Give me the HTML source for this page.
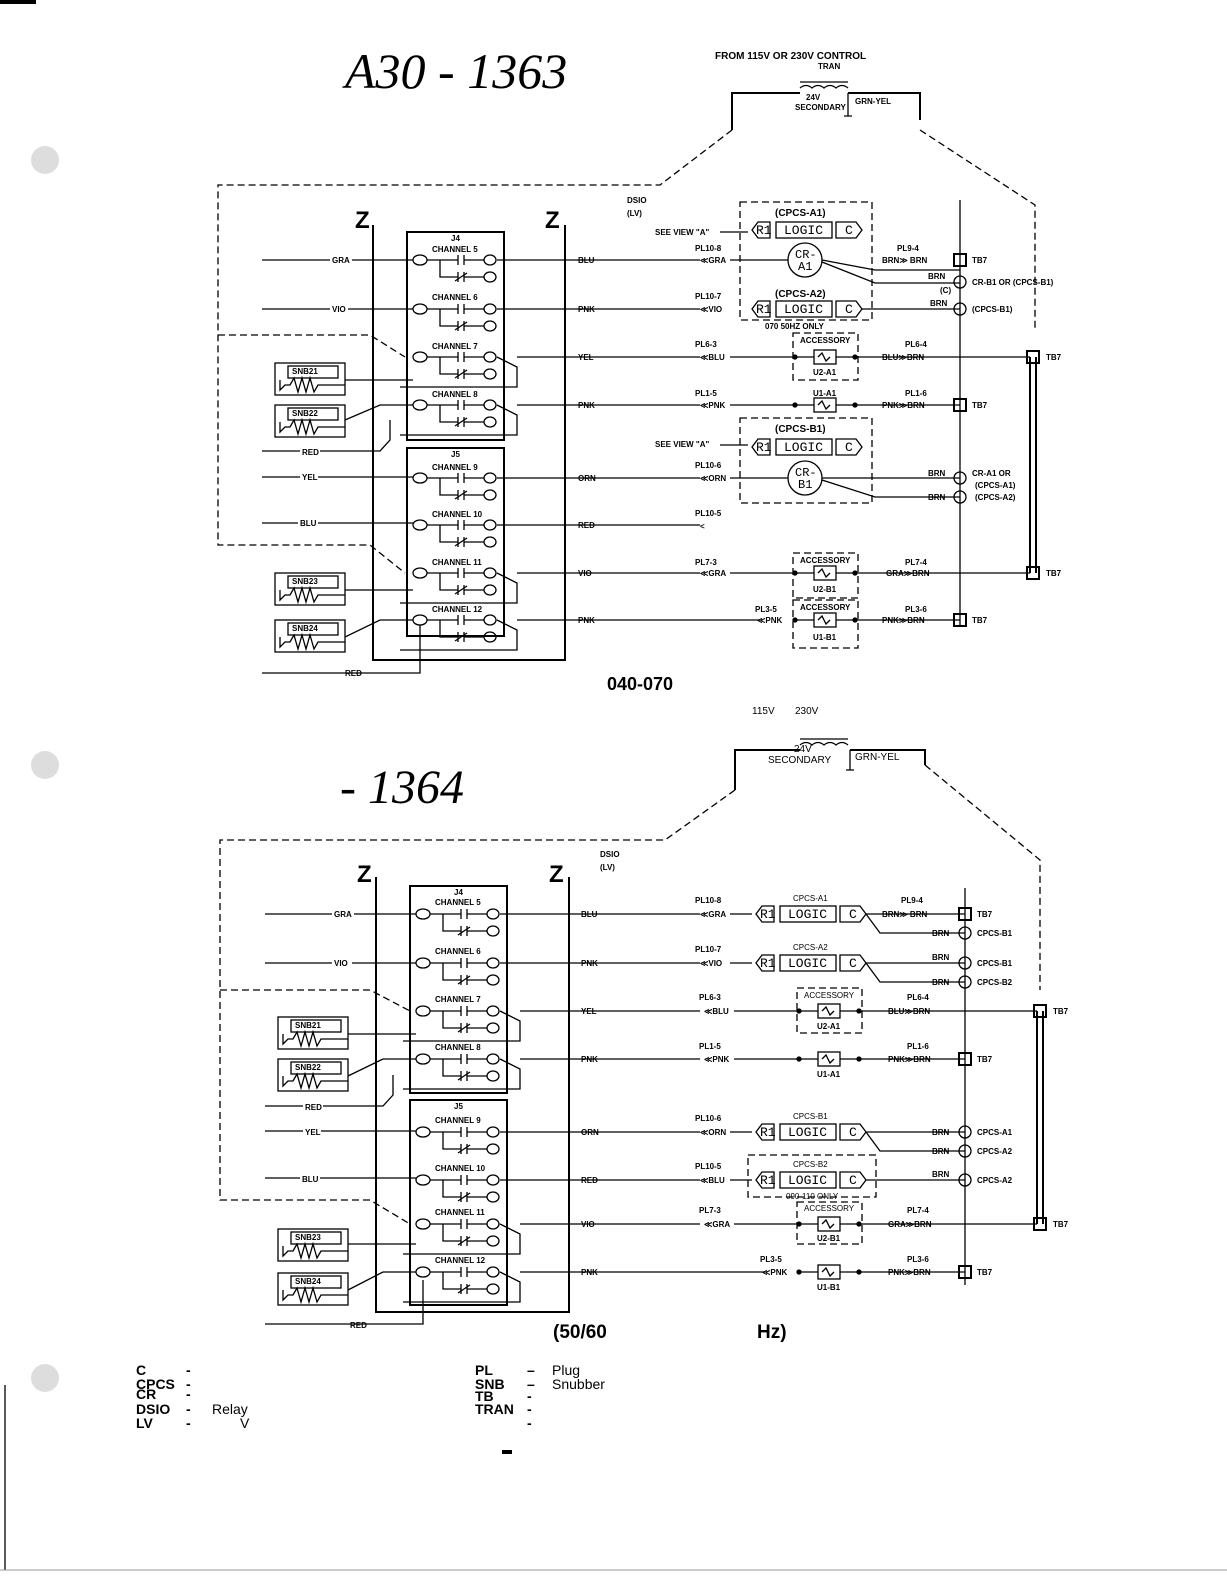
<!DOCTYPE html>
<html><head><meta charset="utf-8"><style>
html,body{margin:0;padding:0;background:#fff}
svg{display:block}
text{font-family:"Liberation Sans",sans-serif;font-size:8px;font-weight:bold;fill:#000}
.t{font-size:10px}
.m{font-family:"Liberation Mono",monospace;font-weight:normal;font-size:13px}
.s{fill:none;stroke:#000;stroke-width:1.3}
.b{fill:none;stroke:#000;stroke-width:2}
.d{fill:none;stroke:#000;stroke-width:1.3;stroke-dasharray:7 4}
</style></head><body>
<svg width="1227" height="1587" viewBox="0 0 1227 1587" xmlns="http://www.w3.org/2000/svg">
<defs>
<g id="ch" class="s">
<ellipse cx="420" cy="0" rx="7" ry="5"/><ellipse cx="490" cy="0" rx="6" ry="5"/><ellipse cx="490" cy="17" rx="6" ry="5"/>
<line x1="427" y1="0" x2="458" y2="0"/><line x1="458" y1="-5" x2="458" y2="5"/><line x1="464" y1="-5" x2="464" y2="5"/><line x1="464" y1="0" x2="484" y2="0"/>
<polyline points="440,0 440,17 458,17"/><line x1="458" y1="12" x2="458" y2="22"/><line x1="464" y1="12" x2="464" y2="22"/><line x1="455" y1="21" x2="467" y2="13"/><line x1="464" y1="17" x2="484" y2="17"/>
</g>
<g id="br" class="s"><polyline points="497,0 517,10 517,30 400,30"/></g>
<g id="snb" class="s"><rect x="0" y="0" width="70" height="32"/><rect x="13" y="3" width="50" height="12"/><polyline points="5,17 5,27 10,22 15,22 19,15 23,29 27,15 31,29 35,15 39,29 43,22 70,22"/></g>
<g id="rlc" class="s"><path d="M10,-8 H22 V8 H10 L4,0 Z"/><rect x="28" y="-8" width="56" height="16"/><path d="M88,-8 H108 L114,0 108,8 H88 Z"/></g>
<g id="acc" class="s"><rect x="-11" y="-7" width="22" height="14"/><path d="M-7,0 l4,-4 4,8 4,-4"/><line x1="-30" y1="0" x2="-11" y2="0"/><line x1="11" y1="0" x2="30" y2="0"/><circle cx="-30" cy="0" r="2" fill="#000"/><circle cx="30" cy="0" r="2" fill="#000"/></g>
<g id="tb" class="s"><rect x="-6" y="-6" width="12" height="12" stroke-width="2"/></g>
<g id="cr"><circle cx="0" cy="0" r="6" class="s"/></g>
</defs>

<rect x="0" y="0" width="36" height="4" fill="#000"/>
<circle cx="45" cy="160" r="14" fill="#ddd"/><circle cx="45" cy="765" r="14" fill="#ddd"/><circle cx="45" cy="1378" r="14" fill="#ddd"/>
<line x1="5" y1="1385" x2="5" y2="1570" class="s"/>
<line x1="0" y1="1570" x2="1227" y2="1570" stroke="#999" stroke-width="1"/>

<!-- TOP -->
<text x="345" y="88" style="font-size:50px;font-weight:normal;font-style:italic;font-family:'Liberation Serif',serif">A30 - 1363</text>
<text x="715" y="59" class="t">FROM 115V OR 230V CONTROL</text><text x="818" y="69">TRAN</text>
<path class="b" d="M732,130 V93 H800 M848,93 H920 V120"/>
<path class="s" d="M800,88 q6,-5 12,0 q6,-5 12,0 q6,-5 12,0 q6,-5 12,0 M800,82 H848"/>
<text x="806" y="100">24V</text><text x="795" y="110">SECONDARY</text><text x="855" y="104">GRN-YEL</text>
<path class="s" d="M848,93 V116 M844,116 H852"/>
<path class="d" d="M732,130 L660,185 H218 V545 H370 L405,573 M920,130 L1035,205 V330 M218,335 H370 L405,357"/>
<text x="627" y="203">DSIO</text><text x="627" y="216">(LV)</text>
<text x="355" y="228" style="font-size:24px">Z</text><text x="545" y="228" style="font-size:24px">Z</text>
<path class="b" d="M373,225 V660 H565 V225"/>
<rect class="b" x="407" y="232" width="97" height="208"/><rect class="b" x="407" y="448" width="97" height="188"/>
<text x="451" y="241">J4</text><text x="451" y="457">J5</text>
<g><use href="#ch" y="260"/><use href="#ch" y="309"/><use href="#ch" y="357"/><use href="#ch" y="405"/><use href="#ch" y="478"/><use href="#ch" y="525"/><use href="#ch" y="573"/><use href="#ch" y="620"/>
<use href="#br" y="357"/><use href="#br" y="405"/><use href="#br" y="573"/><use href="#br" y="620"/></g>
<text x="432" y="252">CHANNEL 5</text><text x="432" y="300">CHANNEL 6</text><text x="432" y="349">CHANNEL 7</text><text x="432" y="397">CHANNEL 8</text><text x="432" y="470">CHANNEL 9</text><text x="432" y="517">CHANNEL 10</text><text x="432" y="565">CHANNEL 11</text><text x="432" y="612">CHANNEL 12</text>
<path class="s" d="M262,260 H413 M262,309 H413 M345,380 H413 M345,420 L380,405 H413 M262,451 H380 L390,440 V420 M262,477 H413 M262,523 H413 M345,590 H413 M345,637 L380,620 H413 M262,673 H420 V625"/>
<rect x="330" y="255" width="22" height="9" fill="#fff"/><text x="332" y="263">GRA</text>
<rect x="330" y="304" width="18" height="9" fill="#fff"/><text x="332" y="312">VIO</text>
<rect x="300" y="447" width="20" height="9" fill="#fff"/><text x="302" y="455">RED</text>
<rect x="300" y="472" width="18" height="9" fill="#fff"/><text x="302" y="480">YEL</text>
<rect x="298" y="518" width="20" height="9" fill="#fff"/><text x="300" y="526">BLU</text>
<text x="345" y="676">RED</text>
<use href="#snb" x="275" y="363"/><use href="#snb" x="275" y="405"/><use href="#snb" x="275" y="573"/><use href="#snb" x="275" y="620"/>
<text x="292" y="374">SNB21</text><text x="292" y="416">SNB22</text><text x="292" y="584">SNB23</text><text x="292" y="631">SNB24</text>
<path class="s" d="M497,260 H700 M497,309 H700 M517,357 H700 M517,405 H700 M497,478 H700 M497,525 H700 M517,573 H700 M517,620 H760"/>
<g><text x="578" y="263">BLU</text><text x="578" y="312">PNK</text><text x="578" y="360">YEL</text><text x="578" y="408">PNK</text><text x="578" y="481">ORN</text><text x="578" y="528">RED</text><text x="578" y="576">VIO</text><text x="578" y="623">PNK</text></g>
<line class="s" x1="960" y1="200" x2="960" y2="625"/>
<path class="b" d="M1030,357 V573 M1036,357 V573"/>
<rect class="d" x="740" y="202" width="132" height="118"/>
<text x="775" y="216" class="t">(CPCS-A1)</text><use href="#rlc" x="748" y="230"/><text x="756" y="234" class="m">R1</text><text x="784" y="234" class="m">LOGIC</text><text x="845" y="234" class="m">C</text>
<text x="655" y="235">SEE VIEW "A"</text><line class="s" x1="720" y1="232" x2="748" y2="232"/>
<text x="695" y="251">PL10-8</text><text x="700" y="263">≪GRA</text><path class="s" d="M730,260 H788 M822,260 L875,270 H960 M822,262 L875,283 H960"/>
<circle cx="805" cy="260" r="17" class="s" fill="#fff"/><text x="795" y="258" class="m" style="font-size:12px">CR-</text><text x="798" y="270" class="m" style="font-size:12px">A1</text>
<text x="897" y="251">PL9-4</text><text x="882" y="263">BRN≫ BRN</text><use href="#tb" x="960" y="260"/><text x="972" y="263">TB7</text>
<use href="#cr" x="960" y="282"/><text x="972" y="285">CR-B1 OR (CPCS-B1)</text><text x="940" y="293">(C)</text><text x="928" y="279">BRN</text>
<text x="775" y="297" class="t">(CPCS-A2)</text><text x="695" y="299">PL10-7</text><text x="700" y="312">≪VIO</text><use href="#rlc" x="748" y="309"/><text x="756" y="313" class="m">R1</text><text x="784" y="313" class="m">LOGIC</text><text x="845" y="313" class="m">C</text>
<path class="s" d="M862,309 H960"/><text x="930" y="306">BRN</text><use href="#cr" x="960" y="309"/><text x="972" y="312">(CPCS-B1)</text><text x="765" y="329">070 50HZ ONLY</text>
<rect class="d" x="793" y="333" width="65" height="47"/><text x="800" y="343">ACCESSORY</text>
<text x="695" y="347">PL6-3</text><text x="700" y="360">≪BLU</text><line class="s" x1="730" y1="357" x2="795" y2="357"/><use href="#acc" x="825" y="357"/><text x="813" y="375">U2-A1</text>
<text x="905" y="347">PL6-4</text><text x="882" y="360">BLU≫BRN</text><line class="s" x1="855" y1="357" x2="1030" y2="357"/><use href="#tb" x="1033" y="357"/><text x="1046" y="360">TB7</text>
<text x="695" y="396">PL1-5</text><text x="700" y="408">≪PNK</text><line class="s" x1="730" y1="405" x2="795" y2="405"/><use href="#acc" x="825" y="405"/><text x="813" y="396">U1-A1</text>
<text x="905" y="396">PL1-6</text><text x="882" y="408">PNK≫BRN</text><line class="s" x1="855" y1="405" x2="960" y2="405"/><use href="#tb" x="960" y="405"/><text x="972" y="408">TB7</text>
<rect class="d" x="740" y="418" width="132" height="85"/><text x="775" y="432" class="t">(CPCS-B1)</text><use href="#rlc" x="748" y="447"/><text x="756" y="451" class="m">R1</text><text x="784" y="451" class="m">LOGIC</text><text x="845" y="451" class="m">C</text>
<text x="655" y="447">SEE VIEW "A"</text><line class="s" x1="720" y1="445" x2="748" y2="445"/>
<text x="695" y="468">PL10-6</text><text x="700" y="481">≪ORN</text><path class="s" d="M730,478 H788 M822,478 L875,478 H960 M822,480 L875,497 H960"/>
<circle cx="805" cy="478" r="17" class="s" fill="#fff"/><text x="795" y="476" class="m" style="font-size:12px">CR-</text><text x="798" y="488" class="m" style="font-size:12px">B1</text>
<use href="#cr" x="960" y="478"/><use href="#cr" x="960" y="497"/><text x="972" y="476">CR-A1 OR</text><text x="975" y="488">(CPCS-A1)</text><text x="975" y="500">(CPCS-A2)</text><text x="928" y="476">BRN</text><text x="928" y="500">BRN</text>
<text x="695" y="516">PL10-5</text><text x="700" y="529">&lt;</text>
<rect class="d" x="793" y="553" width="65" height="45"/><text x="800" y="563">ACCESSORY</text>
<text x="695" y="565">PL7-3</text><text x="700" y="576">≪GRA</text><line class="s" x1="730" y1="573" x2="795" y2="573"/><use href="#acc" x="825" y="573"/><text x="813" y="592">U2-B1</text>
<text x="905" y="565">PL7-4</text><text x="886" y="576">GRA≫BRN</text><line class="s" x1="855" y1="573" x2="1030" y2="573"/><use href="#tb" x="1033" y="573"/><text x="1046" y="576">TB7</text>
<rect class="d" x="793" y="600" width="65" height="48"/><text x="800" y="610">ACCESSORY</text>
<text x="755" y="612">PL3-5</text><text x="757" y="623">≪PNK</text><use href="#acc" x="825" y="620"/><text x="813" y="640">U1-B1</text>
<text x="905" y="612">PL3-6</text><text x="882" y="623">PNK≫BRN</text><line class="s" x1="855" y1="620" x2="960" y2="620"/><use href="#tb" x="960" y="620"/><text x="972" y="623">TB7</text>
<text x="607" y="690" style="font-size:18px">040-070</text>

<!-- BOTTOM -->
<text x="340" y="803" style="font-size:48px;font-weight:normal;font-style:italic;font-family:'Liberation Serif',serif">- 1364</text>
<text x="752" y="714" style="font-size:10px;font-weight:normal">115V</text><text x="795" y="714" style="font-size:10px;font-weight:normal">230V</text>
<path class="b" d="M735,790 V750 H800 M850,750 H925 V765"/>
<path class="s" d="M800,745 q6,-5 12,0 q6,-5 12,0 q6,-5 12,0 q6,-5 12,0 M800,739 H848 M850,750 V770 M846,770 H854"/>
<text x="794" y="752" class="t" style="font-weight:normal">24V</text><text x="768" y="763" class="t" style="font-weight:normal">SECONDARY</text><text x="855" y="760" class="t" style="font-weight:normal">GRN-YEL</text>
<path class="d" d="M735,790 L665,840 H220 V1200 H370 L410,1224 M925,765 L1040,860 V990 M220,990 H370 L410,1011"/>
<text x="600" y="857">DSIO</text><text x="600" y="870">(LV)</text>
<text x="357" y="882" style="font-size:24px">Z</text><text x="549" y="882" style="font-size:24px">Z</text>
<path class="b" d="M376,877 V1312 H569 V877"/>
<rect class="b" x="410" y="886" width="97" height="207"/><rect class="b" x="410" y="1100" width="97" height="205"/>
<text x="454" y="895">J4</text><text x="454" y="1109">J5</text>
<g transform="translate(3,0)"><use href="#ch" y="914"/><use href="#ch" y="963"/><use href="#ch" y="1011"/><use href="#ch" y="1059"/><use href="#ch" y="1132"/><use href="#ch" y="1180"/><use href="#ch" y="1224"/><use href="#ch" y="1272"/>
<use href="#br" y="1011"/><use href="#br" y="1059"/><use href="#br" y="1224"/><use href="#br" y="1272"/></g>
<text x="435" y="905">CHANNEL 5</text><text x="435" y="954">CHANNEL 6</text><text x="435" y="1002">CHANNEL 7</text><text x="435" y="1050">CHANNEL 8</text><text x="435" y="1123">CHANNEL 9</text><text x="435" y="1171">CHANNEL 10</text><text x="435" y="1215">CHANNEL 11</text><text x="435" y="1263">CHANNEL 12</text>
<path class="s" d="M265,914 H416 M265,963 H416 M348,1034 H416 M348,1076 L383,1059 H416 M265,1106 H383 L393,1095 V1075 M265,1131 H416 M265,1178 H416 M348,1244 H416 M348,1290 L383,1272 H416 M265,1324 H423 V1280"/>
<rect x="332" y="909" width="22" height="9" fill="#fff"/><text x="334" y="917">GRA</text>
<rect x="332" y="958" width="20" height="9" fill="#fff"/><text x="334" y="966">VIO</text>
<rect x="303" y="1102" width="20" height="9" fill="#fff"/><text x="305" y="1110">RED</text>
<rect x="303" y="1127" width="18" height="9" fill="#fff"/><text x="305" y="1135">YEL</text>
<rect x="300" y="1174" width="20" height="9" fill="#fff"/><text x="302" y="1182">BLU</text>
<text x="350" y="1328">RED</text>
<use href="#snb" x="278" y="1017"/><use href="#snb" x="278" y="1059"/><use href="#snb" x="278" y="1229"/><use href="#snb" x="278" y="1273"/>
<text x="295" y="1028">SNB21</text><text x="295" y="1070">SNB22</text><text x="295" y="1240">SNB23</text><text x="295" y="1284">SNB24</text>
<path class="s" d="M500,914 H700 M500,963 H700 M520,1011 H700 M520,1059 H700 M500,1132 H700 M500,1180 H700 M520,1224 H700 M520,1272 H765"/>
<g><text x="581" y="917">BLU</text><text x="581" y="966">PNK</text><text x="581" y="1014">YEL</text><text x="581" y="1062">PNK</text><text x="581" y="1135">ORN</text><text x="581" y="1183">RED</text><text x="581" y="1227">VIO</text><text x="581" y="1275">PNK</text></g>
<line class="s" x1="965" y1="888" x2="965" y2="1285"/>
<path class="b" d="M1037,1011 V1224 M1043,1011 V1224"/>
<text x="695" y="903">PL10-8</text><text x="700" y="917">≪GRA</text><line class="s" x1="730" y1="914" x2="752" y2="914"/><text x="793" y="901" style="font-weight:normal">CPCS-A1</text>
<use href="#rlc" x="752" y="914"/><text x="760" y="918" class="m">R1</text><text x="788" y="918" class="m">LOGIC</text><text x="849" y="918" class="m">C</text>
<path class="s" d="M866,914 H965 M866,914 L880,933 H965"/><text x="901" y="903">PL9-4</text><text x="882" y="917">BRN≫ BRN</text><use href="#tb" x="965" y="914"/><text x="977" y="917">TB7</text>
<use href="#cr" x="965" y="933"/><text x="932" y="936">BRN</text><text x="977" y="936">CPCS-B1</text>
<text x="695" y="952">PL10-7</text><text x="700" y="966">≪VIO</text><line class="s" x1="730" y1="963" x2="752" y2="963"/><text x="793" y="950" style="font-weight:normal">CPCS-A2</text>
<use href="#rlc" x="752" y="963"/><text x="760" y="967" class="m">R1</text><text x="788" y="967" class="m">LOGIC</text><text x="849" y="967" class="m">C</text>
<path class="s" d="M866,963 H965 M866,963 L880,982 H965"/><use href="#cr" x="965" y="963"/><use href="#cr" x="965" y="982"/><text x="932" y="960">BRN</text><text x="932" y="985">BRN</text><text x="977" y="966">CPCS-B1</text><text x="977" y="985">CPCS-B2</text>
<rect class="d" x="797" y="988" width="65" height="45"/><text x="804" y="998" style="font-weight:normal">ACCESSORY</text>
<text x="699" y="1000">PL6-3</text><text x="704" y="1014">≪BLU</text><line class="s" x1="734" y1="1011" x2="799" y2="1011"/><use href="#acc" x="829" y="1011"/><text x="817" y="1029">U2-A1</text>
<text x="907" y="1000">PL6-4</text><text x="888" y="1014">BLU≫BRN</text><line class="s" x1="859" y1="1011" x2="1037" y2="1011"/><use href="#tb" x="1040" y="1011"/><text x="1053" y="1014">TB7</text>
<text x="699" y="1049">PL1-5</text><text x="704" y="1062">≪PNK</text><line class="s" x1="734" y1="1059" x2="799" y2="1059"/><use href="#acc" x="829" y="1059"/><text x="817" y="1077">U1-A1</text>
<text x="907" y="1049">PL1-6</text><text x="888" y="1062">PNK≫BRN</text><line class="s" x1="859" y1="1059" x2="965" y2="1059"/><use href="#tb" x="965" y="1059"/><text x="977" y="1062">TB7</text>
<text x="695" y="1121">PL10-6</text><text x="700" y="1135">≪ORN</text><line class="s" x1="730" y1="1132" x2="752" y2="1132"/><text x="793" y="1119" style="font-weight:normal">CPCS-B1</text>
<use href="#rlc" x="752" y="1132"/><text x="760" y="1136" class="m">R1</text><text x="788" y="1136" class="m">LOGIC</text><text x="849" y="1136" class="m">C</text>
<path class="s" d="M866,1132 H965 M866,1132 L880,1151 H965"/><use href="#cr" x="965" y="1132"/><use href="#cr" x="965" y="1151"/><text x="932" y="1135">BRN</text><text x="932" y="1154">BRN</text><text x="977" y="1135">CPCS-A1</text><text x="977" y="1154">CPCS-A2</text>
<rect class="d" x="748" y="1155" width="128" height="42"/><text x="793" y="1167" style="font-weight:normal">CPCS-B2</text>
<text x="695" y="1169">PL10-5</text><text x="700" y="1183">≪BLU</text><line class="s" x1="730" y1="1180" x2="752" y2="1180"/>
<use href="#rlc" x="752" y="1180"/><text x="760" y="1184" class="m">R1</text><text x="788" y="1184" class="m">LOGIC</text><text x="849" y="1184" class="m">C</text>
<path class="s" d="M866,1180 H965"/><use href="#cr" x="965" y="1180"/><text x="932" y="1177">BRN</text><text x="977" y="1183">CPCS-A2</text><text x="786" y="1199" style="font-weight:normal">090-110 ONLY</text>
<rect class="d" x="797" y="1202" width="65" height="42"/><text x="804" y="1211" style="font-weight:normal">ACCESSORY</text>
<text x="699" y="1213">PL7-3</text><text x="704" y="1227">≪GRA</text><line class="s" x1="734" y1="1224" x2="799" y2="1224"/><use href="#acc" x="829" y="1224"/><text x="817" y="1241">U2-B1</text>
<text x="907" y="1213">PL7-4</text><text x="888" y="1227">GRA≫BRN</text><line class="s" x1="859" y1="1224" x2="1037" y2="1224"/><use href="#tb" x="1040" y="1224"/><text x="1053" y="1227">TB7</text>
<text x="760" y="1262">PL3-5</text><text x="762" y="1275">≪PNK</text><use href="#acc" x="829" y="1272"/><text x="817" y="1290">U1-B1</text>
<text x="907" y="1262">PL3-6</text><text x="888" y="1275">PNK≫BRN</text><line class="s" x1="859" y1="1272" x2="965" y2="1272"/><use href="#tb" x="965" y="1272"/><text x="977" y="1275">TB7</text>
<text x="553" y="1338" style="font-size:19px">(50/60</text><text x="757" y="1338" style="font-size:19px">Hz)</text>

<g>
<text x="136" y="1375" style="font-size:14px">C</text><text x="136" y="1389" style="font-size:14px">CPCS</text><text x="136" y="1399" style="font-size:14px">CR</text><text x="136" y="1414" style="font-size:14px">DSIO</text><text x="136" y="1428" style="font-size:14px">LV</text>
<text x="186" y="1375" style="font-size:14px">-</text><text x="186" y="1389" style="font-size:14px">-</text><text x="186" y="1399" style="font-size:14px">-</text><text x="186" y="1414" style="font-size:14px">-</text><text x="186" y="1428" style="font-size:14px">-</text>
<text x="212" y="1414" style="font-size:14px;font-weight:normal">Relay</text><text x="240" y="1428" style="font-size:14px;font-weight:normal">V</text>
<text x="475" y="1375" style="font-size:14px">PL</text><text x="475" y="1389" style="font-size:14px">SNB</text><text x="475" y="1401" style="font-size:14px">TB</text><text x="475" y="1414" style="font-size:14px">TRAN</text>
<text x="527" y="1375" style="font-size:14px">–</text><text x="527" y="1389" style="font-size:14px">–</text><text x="527" y="1401" style="font-size:14px">-</text><text x="527" y="1414" style="font-size:14px">-</text><text x="527" y="1428" style="font-size:14px">-</text>
<text x="552" y="1375" style="font-size:14px;font-weight:normal">Plug</text><text x="552" y="1389" style="font-size:14px;font-weight:normal">Snubber</text>
<rect x="502" y="1450" width="10" height="4" fill="#000"/>
</g>
</svg>
</body></html>
